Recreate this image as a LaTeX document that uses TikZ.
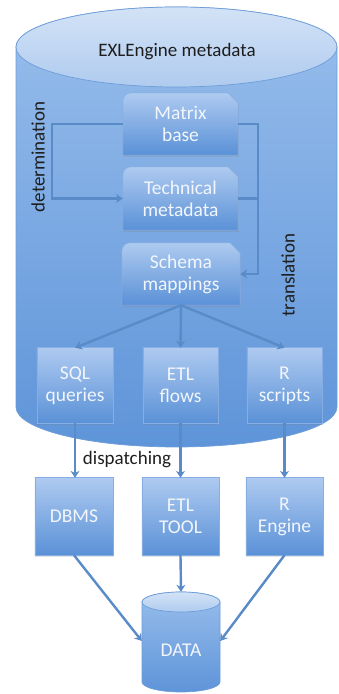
\documentclass[tikz,border=0pt]{standalone}
\usepackage{fontspec}
\setmainfont{Carlito}
\usetikzlibrary{arrows.meta,shadows,calc}
\definecolor{arrc}{HTML}{5A8BC9}
\definecolor{labc}{HTML}{1E1E1E}
\definecolor{boxtop}{HTML}{AECAF0}
\definecolor{boxbot}{HTML}{5A91D7}
\definecolor{boxedge}{HTML}{86AEE2}
\definecolor{cyltop}{HTML}{98BEEC}
\definecolor{cylbot}{HTML}{5E94D9}
\definecolor{cyledge}{HTML}{6E9DD8}
\definecolor{lidtop}{HTML}{D3E3F6}
\definecolor{lidbot}{HTML}{AFCBEF}
\definecolor{boxtxt}{HTML}{F2F6FC}
\pgfdeclarelayer{cyl}
\pgfdeclarelayer{boxbg}
\pgfsetlayers{cyl,boxbg,main}
\tikzset{
  boxshade/.style={top color=boxtop, bottom color=boxbot, draw=boxedge, line width=0.6pt,
    drop shadow={opacity=0.22, shadow xshift=0.6pt, shadow yshift=-1.8pt}},
  boxtext/.style={text=boxtxt, align=center, font=\fontsize{19.5}{22}\selectfont, inner sep=0pt},
  arr/.style={draw=arrc, line width=2.4pt, -{Stealth[length=7pt,width=9pt]}},
  plainline/.style={draw=arrc, line width=2.4pt},
  lab/.style={text=labc, font=\fontsize{19}{22}\selectfont, inner sep=0pt}
}
% name, cx, cy, w, h, text
\newcommand\snipbox[6]{%
  \node[boxtext, minimum width=#4pt, minimum height=#5pt] (#1) at (#2,#3) {#6};
  \begin{pgfonlayer}{boxbg}
    \shade[boxshade] (#1.south west) -- ($(#1.north west)+(0,-8)$)
      arc[start angle=180, end angle=90, radius=8] -- ($(#1.north east)+(-10,0)$)
      -- ($(#1.north east)+(0,-10)$) -- (#1.south east) -- cycle;
  \end{pgfonlayer}}
\newcommand\rectbox[6]{%
  \node[boxtext, minimum width=#4pt, minimum height=#5pt] (#1) at (#2,#3) {#6};
  \begin{pgfonlayer}{boxbg}
    \shade[boxshade] (#1.south west) rectangle (#1.north east);
  \end{pgfonlayer}}
\begin{document}
\begin{tikzpicture}[x=1pt,y=1pt]
\useasboundingbox (0,0) rectangle (339,694);
% big cylinder
\begin{pgfonlayer}{cyl}
  \shade[top color=cyltop, bottom color=cylbot, draw=cyledge, line width=0.7pt]
    (16,647) -- (16,287) arc[start angle=180, end angle=360, x radius=160.5, y radius=40]
    -- (337,647) arc[start angle=0, end angle=180, x radius=160.5, y radius=40] -- cycle;
  \shade[top color=lidtop, bottom color=lidbot, draw=cyledge, line width=0.7pt]
    (176.5,647) ellipse[x radius=160.5, y radius=40];
  % DATA cylinder
  \shade[top color=cyltop, bottom color=cylbot, draw=cyledge, line width=0.7pt]
    (142,92) -- (142,12) arc[start angle=180, end angle=360, x radius=39, y radius=10]
    -- (220,92) arc[start angle=0, end angle=180, x radius=39, y radius=10] -- cycle;
  \shade[top color=lidtop, bottom color=lidbot, draw=cyledge, line width=0.7pt]
    (181,92) ellipse[x radius=39, y radius=10];
\end{pgfonlayer}
\node[lab] (title) at (177,642) {EXLEngine metadata};
\snipbox{mb}{180.5}{570}{115}{62}{Matrix\\base}
\snipbox{tm}{180.5}{495.5}{115}{63}{Technical\\metadata}
\snipbox{sm}{181}{420}{118}{62}{Schema\\mappings}
\rectbox{sql}{75}{308.5}{76}{75}{SQL\\queries}
\rectbox{etl}{180.5}{308.5}{75}{75}{ETL\\flows}
\rectbox{rs}{284.5}{308.5}{75}{75}{R\\scripts}
\rectbox{dbms}{74}{177.5}{78}{77}{DBMS}
\rectbox{etlt}{180.5}{177.5}{77}{77}{ETL\\TOOL}
\rectbox{reng}{284.5}{177.5}{77}{77}{R\\Engine}
\node[minimum width=78pt, minimum height=98pt, inner sep=0pt] (data) at (181,53) {};
\node[boxtext] (datat) at (181,44) {DATA};
% labels
\node[lab, rotate=90] (det) at (38,537) {determination};
\node[lab, rotate=90] (tra) at (288,419) {translation};
\node[lab] (dis) at (127,234) {dispatching};
% connectors
\coordinate (dx) at (52,0);
\coordinate (tx) at (258,0);
\draw[arr] (mb.west) -- (mb.west -| dx) |- (tm.west);
\draw[arr] (mb.east) -- (mb.east -| tx) |- (sm.east);
\draw[plainline] (tm.east) -- (tm.east -| tx);
\draw[arr] (sm.south) -- (sql.north);
\draw[arr] (sm.south) -- (etl.north);
\draw[arr] (sm.south) -- (rs.north);
\draw[arr] (sql.south) -- (sql.south |- dbms.north);
\draw[arr] (etl.south) -- (etlt.north);
\draw[arr] (rs.south) -- (rs.south |- reng.north);
\draw[arr] (dbms.south) -- (data.west);
\draw[arr] (etlt.south) -- (data.north);
\draw[arr] (reng.south) -- (data.east);
\end{tikzpicture}
\end{document}
